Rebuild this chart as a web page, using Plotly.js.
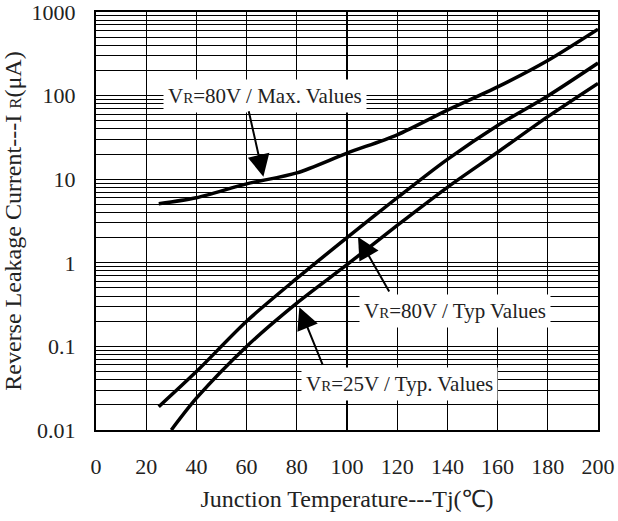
<!DOCTYPE html>
<html>
<head>
<meta charset="utf-8">
<script src="https://cdn.plot.ly/plotly-3.0.1.min.js"></script>
<style>html,body{margin:0;padding:0;background:#fff;}#chart{width:618px;height:521px;}</style>
</head>
<body>
<div id="chart"></div>
<script>
// Junction temperature (°C) and reverse leakage current (µA)
const maxT = [25, 40, 60, 80, 100, 120, 140, 160, 180, 200];
const maxIR = [5.1, 6.0, 8.8, 11.9, 20.5, 34, 67, 127, 263, 623];

const typ80T = [25, 40, 60, 80, 100, 120, 140, 160, 180, 200];
const typ80IR = [0.019, 0.05, 0.2, 0.65, 2.0, 6.0, 17.3, 44, 99, 245];

const typ25T = [30, 40, 60, 80, 100, 120, 140, 160, 180, 200];
const typ25IR = [0.01, 0.024, 0.1, 0.33, 0.95, 2.8, 8.0, 21, 56, 140];

const xTicks = [0, 20, 40, 60, 80, 100, 120, 140, 160, 180, 200];
const yTickVals = [0.01, 0.1, 1, 10, 100, 1000];
const yTickText = ['0.01', '0.1', '1', '10', '100', '1000'];

const labelMax = 'V<span style="font-size:15px">R</span>=80V / Max. Values';
const labelTyp80 = 'V<span style="font-size:15px">R</span>=80V / Typ Values';
const labelTyp25 = 'V<span style="font-size:15px">R</span>=25V / Typ. Values';

const FONT = 'Liberation Serif, Times New Roman, serif';
const lineStyle = {color: '#000', width: 3.5, shape: 'spline', smoothing: 0.8};

const traces = [
  {x: maxT, y: maxIR, mode: 'lines', line: lineStyle, hoverinfo: 'skip'},
  {x: typ80T, y: typ80IR, mode: 'lines', line: lineStyle, hoverinfo: 'skip'},
  {x: typ25T, y: typ25IR, mode: 'lines', line: lineStyle, hoverinfo: 'skip'}
];

const textAnn = (x, ylog, text) => ({
  x: x, y: ylog, xref: 'x', yref: 'y', text: text, showarrow: false,
  bgcolor: '#fff', font: {family: FONT, size: 21, color: '#222'},
  borderpad: 4
});
const arrowAnn = (x, ylog, ax, ay) => ({
  x: x, y: ylog, xref: 'x', yref: 'y', text: '', showarrow: true,
  ax: ax, ay: ay, arrowhead: 2, arrowsize: 2.2, arrowwidth: 2, arrowcolor: '#000'
});

const layout = {
  width: 618, height: 521,
  margin: {l: 96, r: 20, t: 12, b: 91},
  paper_bgcolor: '#fff', plot_bgcolor: '#fff',
  showlegend: false,
  font: {family: FONT, color: '#222'},
  xaxis: {
    range: [0, 200], tickvals: xTicks, ticks: '', showgrid: true,
    gridcolor: '#000', gridwidth: 1.2, zeroline: false,
    showline: true, linecolor: '#000', linewidth: 2, mirror: true,
    ticklabelstandoff: 16, ticklabeloverflow: 'allow',
    tickfont: {family: FONT, size: 22, color: '#222'},
    title: {text: 'Junction Temperature---Tj(℃)', font: {family: FONT, size: 24, color: '#222'}, standoff: 12}
  },
  yaxis: {
    type: 'log', range: [-2, 3], tickvals: yTickVals, ticktext: yTickText, ticks: '',
    showgrid: true, gridcolor: '#000', gridwidth: 1.2, zeroline: false,
    showline: true, linecolor: '#000', linewidth: 2, mirror: true,
    ticklabelstandoff: 14, ticklabeloverflow: 'allow',
    minor: {showgrid: true, gridcolor: '#000', gridwidth: 1, dtick: 'D1', ticks: ''},
    tickfont: {family: FONT, size: 22, color: '#222'},
    title: {text: 'Reverse Leakage Current---I <span style="font-size:17px">R</span>(μA)', font: {family: FONT, size: 24, color: '#222'}, standoff: 4}
  },
  annotations: [
    textAnn(67.3, 1.995, labelMax),
    textAnn(143, -0.575, labelTyp80),
    textAnn(121, -1.45, labelTyp25),
    arrowAnn(66.7, 1.03, -15, -67),
    arrowAnn(104.4, 0.309, 32, 56),
    arrowAnn(81, -0.532, 24, 59)
  ]
};

Plotly.newPlot('chart', traces, layout, {displayModeBar: false, staticPlot: true});
</script>
</body>
</html>
